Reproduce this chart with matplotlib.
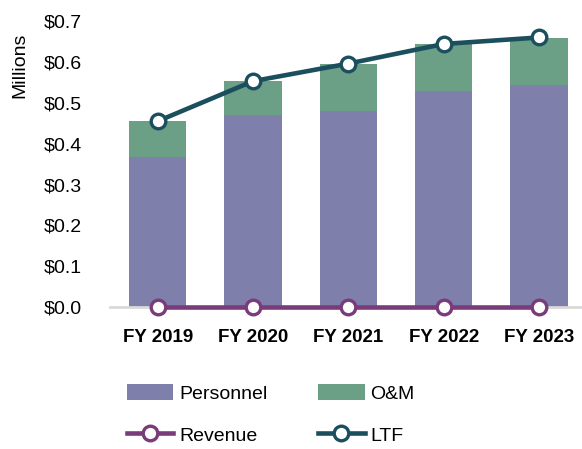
import matplotlib
matplotlib.use("Agg")
import matplotlib.pyplot as plt
import numpy as np

years = ["FY 2019", "FY 2020", "FY 2021", "FY 2022", "FY 2023"]
personnel = [0.367, 0.470, 0.480, 0.528, 0.543]
om = [0.088, 0.083, 0.115, 0.116, 0.115]
revenue = [0.0, 0.0, 0.0, 0.0, 0.0]
ltf = [0.455, 0.553, 0.596, 0.644, 0.660]

C_PERS = "#7f7fab"
C_OM = "#6b9f86"
C_REV = "#7a3b7a"
C_LTF = "#1b4f5d"

plt.rcParams.update({"font.family": ["Liberation Sans", "DejaVu Sans"]})

fig = plt.figure(figsize=(5.82, 4.49), dpi=100)
ax = fig.add_axes([0.189, 0.316, 0.811, 0.637])

x = np.arange(len(years))
b1 = ax.bar(x, personnel, width=0.6, color=C_PERS, label="Personnel", zorder=2)
b2 = ax.bar(x, om, width=0.6, bottom=personnel, color=C_OM, label="O&M", zorder=2)
l1, = ax.plot(x, revenue, color=C_REV, lw=3.3, marker="o", ms=10.5, mfc="white",
              mec=C_REV, mew=2.4, label="Revenue", zorder=4, clip_on=False)
l2, = ax.plot(x, ltf, color=C_LTF, lw=3.3, marker="o", ms=10.5, mfc="white",
              mec=C_LTF, mew=2.4, label="LTF", zorder=4, clip_on=False)

ax.set_xlim(-0.5, 4.45)
ax.set_ylim(0, 0.7)
ax.set_yticks(np.arange(0, 0.71, 0.1))
ax.set_yticklabels([f"${v:.1f}" for v in np.arange(0, 0.71, 0.1)], fontsize=14)
ax.set_xticks(x)
ax.set_xticklabels(years, fontsize=13.5, fontweight="bold")
ax.tick_params(axis="both", length=0)
ax.tick_params(axis="y", pad=20)
ax.tick_params(axis="x", pad=16)
for s in ["top", "right", "left"]:
    ax.spines[s].set_visible(False)
ax.spines["bottom"].set_color("#d9d9d9")
ax.spines["bottom"].set_linewidth(2)

fig.text(20 / 582, 1 - 65 / 449, "Millions", rotation=90, ha="center",
         va="center", fontsize=14)

# column-wise fill: col1 = Personnel, Revenue ; col2 = O&M, LTF
fig.legend([b1, l1, b2, l2], ["Personnel", "Revenue", "O&M", "LTF"], ncol=2,
           loc="center", bbox_to_anchor=(0.465, 0.077), frameon=False,
           fontsize=14, handlelength=2.4, handleheight=0.85, handletextpad=0.3,
           columnspacing=2.6, labelspacing=1.2)

fig.savefig("out.png", dpi=100)
